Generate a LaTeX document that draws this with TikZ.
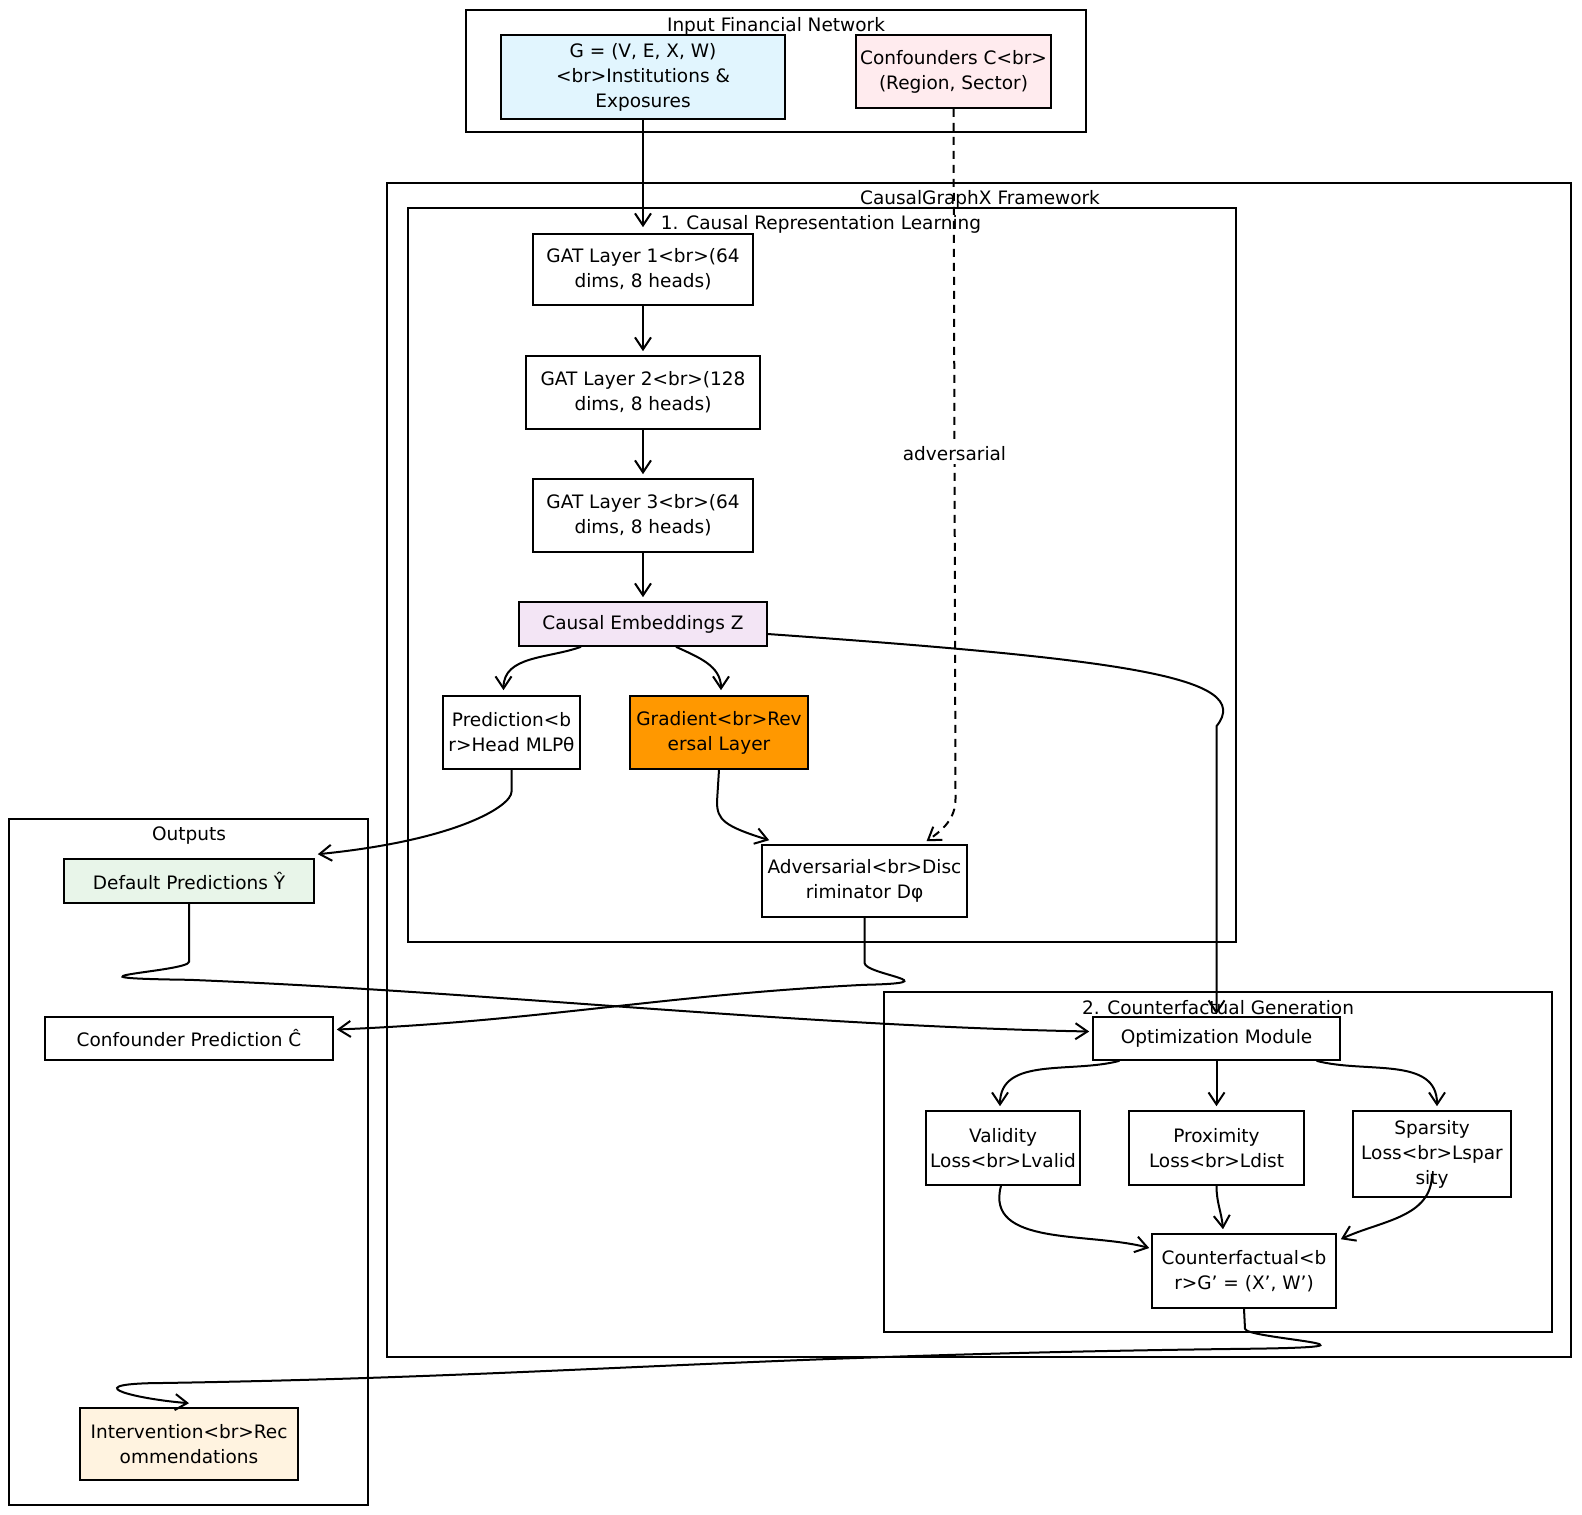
\documentclass[tikz,border=0pt]{standalone}
\usepackage{fontspec}
\setmainfont{DejaVu Sans}
\usetikzlibrary{arrows.meta}

\definecolor{gblue}{HTML}{E1F5FE}
\definecolor{confpink}{HTML}{FFEBEE}
\definecolor{embpurple}{HTML}{F3E5F5}
\definecolor{gradorange}{HTML}{FF9800}
\definecolor{defgreen}{HTML}{E8F5E9}
\definecolor{intvcream}{HTML}{FFF3E0}

\begin{document}
\begin{tikzpicture}[x=1pt, y=1pt,
    box/.style={draw, line width=1.6pt, fill=white, align=center, inner sep=2pt, font=\fontsize{18.5}{25}\selectfont},
    grp/.style={draw, line width=1.6pt},
    ttl/.style={inner sep=1pt, font=\fontsize{18.5}{20}\selectfont},
    edge/.style={-{Straight Barb[length=12pt,width=16pt]}, line width=2pt},
    lbl/.style={fill=white, inner sep=3pt, font=\fontsize{18.5}{20}\selectfont}]
\useasboundingbox (0,0) rectangle (1582,-1515);

% groups
\draw[grp] (466,-10) rectangle (1086,-132);
\draw[grp] (387,-183) rectangle (1571,-1357);
\draw[grp] (408,-208) rectangle (1236,-942);
\draw[grp] (884,-992) rectangle (1552,-1332);
\draw[grp] (9,-819) rectangle (368,-1505);
\node[ttl] (tin) at (776,-26) {Input Financial Network};
\node[ttl] (tfw) at (980,-199) {CausalGraphX Framework};
\node[ttl] (tcrl) at (821,-224) {1. Causal Representation Learning};
\node[ttl] (tcfg) at (1218,-1008) {2. Counterfactual Generation};
\node[ttl] (tout) at (189,-836) {Outputs};

% input
\node[box, fill=gblue, minimum width=284pt, minimum height=84pt] (g) at (643,-77) {G = (V, E, X, W)\\<br>Institutions \&\\Exposures};
\node[box, fill=confpink, minimum width=195pt, minimum height=73pt] (conf) at (953.5,-71.5) {Confounders C<br>\\(Region, Sector)};

% representation learning
\node[box, minimum width=220pt, minimum height=71pt] (gat1) at (643,-269.5) {GAT Layer 1<br>(64\\dims, 8 heads)};
\node[box, minimum width=234pt, minimum height=73pt] (gat2) at (643,-392.5) {GAT Layer 2<br>(128\\dims, 8 heads)};
\node[box, minimum width=220pt, minimum height=73pt] (gat3) at (643,-515.5) {GAT Layer 3<br>(64\\dims, 8 heads)};
\node[box, fill=embpurple, minimum width=248pt, minimum height=44pt] (ce) at (643,-624) {Causal Embeddings Z};
\node[box, minimum width=137pt, minimum height=73pt] (pred) at (511.5,-732.5) {Prediction<b\\r>Head MLPθ};
\node[box, fill=gradorange, minimum width=178pt, minimum height=73pt] (grad) at (719,-732.5) {Gradient<br>Rev\\ersal Layer};
\node[box, minimum width=205pt, minimum height=72pt] (adv) at (864.5,-881) {Adversarial<br>Disc\\riminator Dφ};

% counterfactual generation
\node[box, minimum width=247pt, minimum height=43pt] (opt) at (1216.5,-1038.5) {Optimization Module};
\node[box, minimum width=154pt, minimum height=74pt] (val) at (1003,-1148) {Validity\\Loss<br>Lvalid};
\node[box, minimum width=175pt, minimum height=74pt] (prox) at (1216.5,-1148) {Proximity\\Loss<br>Ldist};
\node[box, minimum width=158pt, minimum height=86pt] (spar) at (1432,-1154) {Sparsity\\Loss<br>Lspar\\sity};
\node[box, minimum width=184pt, minimum height=74pt] (cf) at (1244,-1271) {Counterfactual<b\\r>G' = (X', W')};

% outputs
\node[box, fill=defgreen, minimum width=250pt, minimum height=44pt] (def) at (189,-881) {Default Predictions Ŷ};
\node[box, minimum width=288pt, minimum height=43pt] (cpred) at (189,-1038.5) {Confounder Prediction Ĉ};
\node[box, fill=intvcream, minimum width=218pt, minimum height=72pt] (intv) at (189,-1444) {Intervention<br>Rec\\ommendations};

% connectors
\draw[edge] (g.south) -- ([yshift=6pt]gat1.north);
\draw[edge, dash pattern=on 8pt off 6pt] (conf.south) -- node[lbl] (advl) {adversarial} ++(2,-690) to[out=-90,in=35] ([xshift=62pt,yshift=3pt]adv.north);
\draw[edge] (gat1.south) -- ([yshift=4pt]gat2.north);
\draw[edge] (gat2.south) -- ([yshift=4pt]gat3.north);
\draw[edge] (gat3.south) -- ([yshift=4pt]ce.north);
\draw[edge] ([xshift=-62pt]ce.south) to[out=-160,in=90] ([xshift=-8pt,yshift=5pt]pred.north);
\draw[edge] ([xshift=33pt]ce.south) to[out=-25,in=90] ([xshift=2pt,yshift=5pt]grad.north);
\draw[edge] ([yshift=-10pt]ce.east) .. controls +(350,-25) and +(40,50) .. ([yshift=290pt]opt.north) -- ([yshift=2pt]opt.north);
\draw[edge] (pred.south) -- ++(0,-22) .. controls +(0,-14) and +(140,14) .. ([xshift=3pt,yshift=4pt]def.north east);
\draw[edge] (grad.south) -- ++(-2,-32) .. controls +(0,-18) and +(-45,14) .. ([xshift=8pt,yshift=4pt]adv.north west);
\draw[edge] (adv.south) -- ++(0,-45) .. controls +(0,-12) and +(90,2) .. ++(0,-22) .. controls +(-200,-10) and +(200,8) .. ([xshift=3pt,yshift=9pt]cpred.east);
\draw[edge] (def.south) -- ++(0,-58) .. controls +(0,-10) and +(-150,2) .. ++(0,-18) .. controls +(300,-12) and +(-300,6) .. ([xshift=-3pt,yshift=7pt]opt.west);
\draw[edge] ([xshift=-97pt]opt.south) to[out=-165,in=90] ([xshift=-3pt,yshift=4pt]val.north);
\draw[edge] (opt.south) -- ([yshift=4pt]prox.north);
\draw[edge] ([xshift=100pt]opt.south) to[out=-15,in=90] ([xshift=5pt,yshift=4pt]spar.north);
\draw[edge] ([xshift=-2pt]val.south) to[out=-105,in=165] ([xshift=-2pt,yshift=23pt]cf.west);
\draw[edge] (prox.south) to[out=-90,in=95] ([xshift=-21pt,yshift=4pt]cf.north);
\draw[edge] ([yshift=24pt]spar.south) to[out=-90,in=25] ([xshift=4pt,yshift=-6pt]cf.north east);
\draw[edge] (cf.south) -- ++(1,-20) .. controls +(0,-10) and +(170,2) .. ++(0,-20) .. controls +(-500,-6) and +(400,6) .. ([xshift=-40pt,yshift=24pt]intv.north) .. controls +(-70,-2) and +(-50,4) .. ([yshift=4pt]intv.north);
\end{tikzpicture}
\end{document}
